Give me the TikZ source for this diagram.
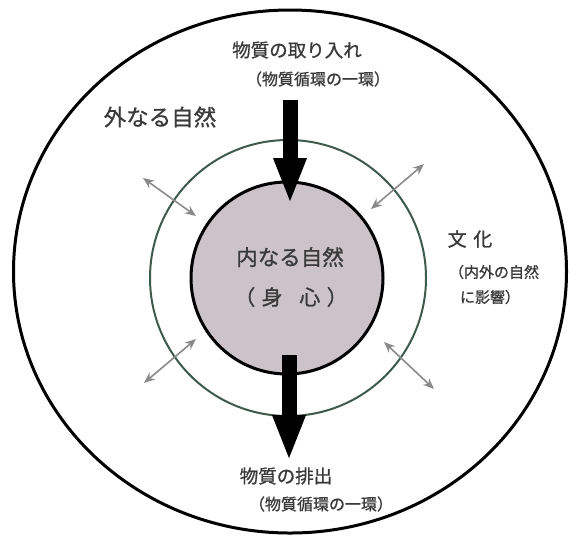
\documentclass[tikz,border=0pt]{standalone}
\usepackage{fontspec}
\setmainfont{Noto Sans CJK JP}[FakeBold=1]
\usetikzlibrary{arrows.meta,shapes.geometric}
\definecolor{bodyfill}{HTML}{CBC3C7}
\definecolor{ringgreen}{HTML}{3E5A4C}
\definecolor{txt}{HTML}{3A3A3A}
\definecolor{dbl}{HTML}{8A8A8A}
\tikzset{
  lbl/.style={text=txt, inner sep=0pt, anchor=center},
  bigarrow/.style={line width=15pt, -{Triangle[length=46pt,width=30pt]}},
  dblarrow/.style={dbl, line width=1.6pt, {Stealth[length=11pt,width=9pt]}-{Stealth[length=11pt,width=9pt]}}
}
\begin{document}
\begin{tikzpicture}[x=1pt,y=-1pt]
\useasboundingbox (0,0) rectangle (569,542);
\node[ellipse, draw=black, line width=3pt, minimum width=553pt, minimum height=523pt, inner sep=0pt] (outer) at (290,271.5) {};
\node[circle, draw=ringgreen, line width=2pt, minimum size=276pt, inner sep=0pt] (ring) at (288,278) {};
\node[circle, draw=black, fill=bodyfill, line width=3pt, minimum size=192pt, inner sep=0pt] (inner) at (287,278) {};

\coordinate (t1) at (290,100);
\coordinate (t2) at (290,204);
\draw[bigarrow] (t1) -- (t2);
\coordinate (b1) at (289,355);
\coordinate (b2) at (289,461);
\draw[bigarrow] (b1) -- (b2);

\coordinate (ul1) at (143,178); \coordinate (ul2) at (196,216);
\coordinate (ur1) at (371,209); \coordinate (ur2) at (424,164);
\coordinate (ll1) at (144,383); \coordinate (ll2) at (196,339);
\coordinate (lr1) at (384,342); \coordinate (lr2) at (434,389);
\draw[dblarrow] (ul1) -- (ul2);
\draw[dblarrow] (ur1) -- (ur2);
\draw[dblarrow] (ll1) -- (ll2);
\draw[dblarrow] (lr1) -- (lr2);

\node[lbl, font=\fontsize{18.5}{20}\selectfont] (intake) at (297,50) {物質の取り入れ};
\node[lbl, font=\fontsize{16}{18}\selectfont] (intake2) at (318,79) {（物質循環の一環）};
\node[lbl, font=\fontsize{22.5}{24}\selectfont] (outnat) at (160,117) {外なる自然};
\node[lbl, font=\fontsize{19}{21}\selectfont] (culture) at (470,239) {文\hspace{0.35em}化};
\node[lbl, font=\fontsize{15}{17}\selectfont] (cult2) at (494,272) {（内外の自然};
\node[lbl, font=\fontsize{15}{17}\selectfont] (cult3) at (490,297) {に影響）};
\node[lbl, font=\fontsize{21.5}{23}\selectfont] (innat) at (290,257) {内なる自然};
\node[lbl, font=\fontsize{21}{23}\selectfont] (body) at (291,297) {（\hspace{0.3em}身\hspace{0.8em}心\hspace{0.3em}）};
\node[lbl, font=\fontsize{18.5}{20}\selectfont] (excr) at (286,476) {物質の排出};
\node[lbl, font=\fontsize{16}{18}\selectfont] (excr2) at (321,504) {（物質循環の一環）};
\end{tikzpicture}
\end{document}
